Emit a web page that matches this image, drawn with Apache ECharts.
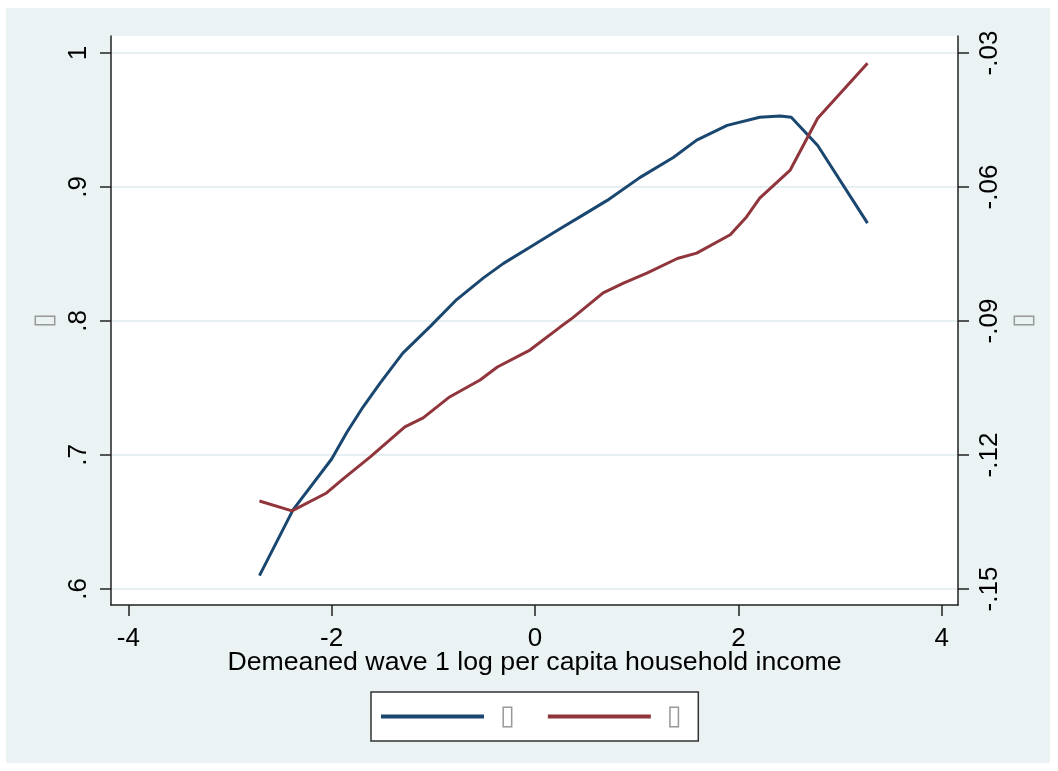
<!DOCTYPE html>
<html>
<head>
<meta charset="utf-8">
<script src="https://cdn.jsdelivr.net/npm/echarts@6/dist/echarts.min.js"></script>
<style>
  html, body { margin: 0; padding: 0; background: #fff; }
  #chart { width: 1058px; height: 771px; }
</style>
</head>
<body>
<div id="chart"></div>
<script>
// 左轴曲线（蓝）
var blueX = [-2.71, -2.38, -2.00, -1.85, -1.69, -1.52, -1.30, -1.03, -0.77, -0.51, -0.31, -0.05,
  0.25, 0.47, 0.71, 1.03, 1.36, 1.59, 1.89, 2.21, 2.41, 2.52, 2.78, 3.27]
var blueY = [0.610, 0.659, 0.697, 0.717, 0.736, 0.754, 0.776, 0.796, 0.816, 0.832, 0.843, 0.855,
  0.869, 0.879, 0.890, 0.907, 0.922, 0.935, 0.946, 0.952, 0.953, 0.952, 0.931, 0.873]
// 右轴曲线（红）
var redX = [-2.71, -2.39, -2.05, -1.89, -1.62, -1.28, -1.10, -0.84, -0.54, -0.37, -0.05, 0.25,
  0.37, 0.67, 0.87, 1.10, 1.40, 1.59, 1.92, 2.08, 2.21, 2.51, 2.78, 3.27]
var redY = [-0.1303, -0.1325, -0.1285, -0.1254, -0.1204, -0.1137, -0.1117, -0.1070, -0.1032, -0.1003, -0.0965, -0.0913,
  -0.0893, -0.0837, -0.0815, -0.0793, -0.0760, -0.0748, -0.0707, -0.0667, -0.0625, -0.0562, -0.0446, -0.0323]

var xTicks = [-4, -2, 0, 2, 4]
var yLeftTicks = [0.6, 0.7, 0.8, 0.9, 1]
var yRightTicks = [-0.15, -0.12, -0.09, -0.06, -0.03]

var xTitle = 'Demeaned wave 1 log per capita household income'
var seriesNames = ['▯', '▯ ']

var font = '"Liberation Sans", Arial, sans-serif'
var stataFmt = function (v, d) {
  var s = (Math.abs(v - Math.round(v)) < 1e-9) ? String(Math.round(v)) : v.toFixed(d)
  return s.replace('0.', '.')
}

function zip(xs, ys) {
  return xs.map(function (x, i) { return [x, ys[i]] })
}

var myChart = echarts.init(document.getElementById('chart'))

var axisLine = { show: true, onZero: false, lineStyle: { color: '#222', width: 1.5 } }
var axisTick = { show: true, length: 11, lineStyle: { color: '#222', width: 1.5 } }
var tofuStyle = { fontSize: 27, color: '#999', fontFamily: 'DejaVu Sans' }

var option = {
  animation: false,
  backgroundColor: '#fff',
  graphic: [
    {
      type: 'rect',
      z: -10,
      shape: { x: 6, y: 8, width: 1044, height: 755 },
      style: { fill: '#EAF2F3' }
    }
  ],
  grid: {
    left: 111,
    top: 36,
    right: 100,
    bottom: 166,
    show: true,
    backgroundColor: '#fff',
    borderWidth: 0
  },
  legend: {
    left: 371,
    top: 692,
    orient: 'horizontal',
    backgroundColor: '#fff',
    borderColor: '#333',
    borderWidth: 1.5,
    borderRadius: 0,
    padding: [11, 8, 11, 10],
    icon: 'rect',
    itemWidth: 103,
    itemHeight: 4,
    itemGap: 33,
    textStyle: Object.assign({ padding: [0, 0, 0, 11] }, tofuStyle),
    data: seriesNames
  },
  xAxis: {
    type: 'value',
    min: -4.17,
    max: 4.16,
    name: xTitle,
    nameLocation: 'middle',
    nameGap: 44,
    nameMoveOverlap: false,
    nameTextStyle: { fontSize: 26.7, color: '#000', fontFamily: font },
    axisLine: axisLine,
    axisTick: Object.assign({ customValues: xTicks }, axisTick),
    axisLabel: {
      customValues: xTicks,
      margin: 21,
      fontSize: 26,
      color: '#000',
      fontFamily: font
    },
    splitLine: { show: false }
  },
  yAxis: [
    {
      type: 'value',
      position: 'left',
      min: 0.58806,
      max: 1.01269,
      name: seriesNames[0],
      nameLocation: 'middle',
      nameRotate: 90,
      nameGap: 52,
      nameTextStyle: tofuStyle,
      axisLine: axisLine,
      axisTick: Object.assign({ customValues: yLeftTicks }, axisTick),
      axisLabel: {
        customValues: yLeftTicks,
        rotate: 90,
        margin: 19,
        fontSize: 26,
        color: '#000',
        fontFamily: font,
        formatter: function (v) { return stataFmt(v, 1) }
      },
      splitLine: { show: true, lineStyle: { color: '#E6EFF1', width: 2 } }
    },
    {
      type: 'value',
      position: 'right',
      min: -0.15358,
      max: -0.02619,
      name: seriesNames[0],
      nameLocation: 'middle',
      nameRotate: 90,
      nameGap: 50,
      nameTextStyle: tofuStyle,
      axisLine: axisLine,
      axisTick: Object.assign({ customValues: yRightTicks }, axisTick),
      axisLabel: {
        customValues: yRightTicks,
        rotate: 90,
        margin: 19,
        fontSize: 26,
        color: '#000',
        fontFamily: font,
        formatter: function (v) { return stataFmt(v, 2) }
      },
      splitLine: { show: false }
    }
  ],
  series: [
    {
      name: seriesNames[0],
      type: 'line',
      yAxisIndex: 0,
      showSymbol: false,
      symbol: 'none',
      lineStyle: { color: '#1A476F', width: 3 },
      itemStyle: { color: '#1A476F' },
      data: zip(blueX, blueY)
    },
    {
      name: seriesNames[1],
      type: 'line',
      yAxisIndex: 1,
      showSymbol: false,
      symbol: 'none',
      lineStyle: { color: '#90353B', width: 3 },
      itemStyle: { color: '#90353B' },
      data: zip(redX, redY)
    }
  ]
}

myChart.setOption(option)
window.onresize = function () {
  myChart.resize()
}
</script>
</body>
</html>
